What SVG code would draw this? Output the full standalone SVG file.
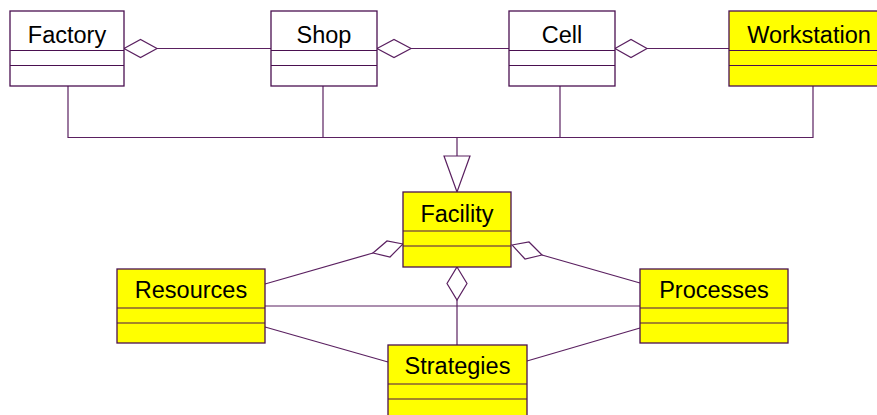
<svg xmlns="http://www.w3.org/2000/svg" width="877" height="415" viewBox="0 0 877 415">
  <style>
    .box { stroke: #4a1050; stroke-width: 1.3; }
    .plain { fill: #ffffff; }
    .hi { fill: #ffff00; }
    .div { stroke: #4a1050; stroke-width: 1.2; fill: none; }
    .lbl { font-family: "Liberation Sans", Arial, sans-serif; font-size: 23.5px; fill: #000000; text-anchor: middle; }
    .conn { stroke: #5a2060; stroke-width: 1.2; fill: none; }
    .dia { stroke: #5a2060; stroke-width: 1.2; fill: #ffffff; }
  </style>

  <g id="connectors">
    <!-- aggregation chain along the top -->
    <line class="conn" x1="157" y1="48.5" x2="271" y2="48.5"/>
    <polygon class="dia" points="124,48.5 140.5,39.5 157,48.5 140.5,57.5"/>
    <line class="conn" x1="411" y1="48.5" x2="509" y2="48.5"/>
    <polygon class="dia" points="377,48.5 394,39.5 411,48.5 394,57.5"/>
    <line class="conn" x1="647" y1="48.5" x2="729" y2="48.5"/>
    <polygon class="dia" points="615,48.5 631,39.5 647,48.5 631,57.5"/>

    <!-- generalization tree -->
    <polyline class="conn" points="68,86 68,137.5 813,137.5 813,86"/>
    <line class="conn" x1="323" y1="86" x2="323" y2="137.5"/>
    <line class="conn" x1="560" y1="86" x2="560" y2="137.5"/>
    <line class="conn" x1="457" y1="137.5" x2="457" y2="156"/>
    <polygon class="dia" points="444,156 470,156 457,192"/>

    <!-- Facility aggregations -->
    <line class="conn" x1="373" y1="253" x2="265" y2="284"/>
    <polygon class="dia" points="403,244 387,241 373,253 390,257"/>
    <line class="conn" x1="542" y1="255" x2="640" y2="283"/>
    <polygon class="dia" points="512,245 529,242 542,255 525,259"/>
    <line class="conn" x1="457" y1="300" x2="457" y2="345"/>
    <polygon class="dia" points="457,267 467,283.5 457,300 447,283.5"/>

    <!-- associations -->
    <line class="conn" x1="265" y1="306" x2="640" y2="306"/>
    <line class="conn" x1="265" y1="327" x2="388" y2="362"/>
    <line class="conn" x1="640" y1="328" x2="527" y2="361"/>
  </g>

  <g id="factory">
    <rect class="box plain" x="10" y="11" width="114" height="75"/>
    <line class="div" x1="10" y1="50.5" x2="124" y2="50.5"/>
    <line class="div" x1="10" y1="65.5" x2="124" y2="65.5"/>
    <text class="lbl" x="67" y="42.5">Factory</text>
  </g>

  <g id="shop">
    <rect class="box plain" x="271" y="11" width="106" height="75"/>
    <line class="div" x1="271" y1="50.5" x2="377" y2="50.5"/>
    <line class="div" x1="271" y1="65.5" x2="377" y2="65.5"/>
    <text class="lbl" x="324" y="42.5">Shop</text>
  </g>

  <g id="cell">
    <rect class="box plain" x="509" y="11" width="106" height="75"/>
    <line class="div" x1="509" y1="50.5" x2="615" y2="50.5"/>
    <line class="div" x1="509" y1="65.5" x2="615" y2="65.5"/>
    <text class="lbl" x="562" y="42.5">Cell</text>
  </g>

  <g id="workstation">
    <rect class="box hi" x="729" y="11" width="162" height="75"/>
    <line class="div" x1="729" y1="50.5" x2="891" y2="50.5"/>
    <line class="div" x1="729" y1="65.5" x2="891" y2="65.5"/>
    <text class="lbl" x="809" y="42.5">Workstation</text>
  </g>

  <g id="facility">
    <rect class="box hi" x="403" y="192" width="108" height="75"/>
    <line class="div" x1="403" y1="231" x2="511" y2="231"/>
    <line class="div" x1="403" y1="246" x2="511" y2="246"/>
    <text class="lbl" x="457" y="222">Facility</text>
  </g>

  <g id="resources">
    <rect class="box hi" x="117" y="269" width="148" height="74"/>
    <line class="div" x1="117" y1="308" x2="265" y2="308"/>
    <line class="div" x1="117" y1="323" x2="265" y2="323"/>
    <text class="lbl" x="191" y="298">Resources</text>
  </g>

  <g id="processes">
    <rect class="box hi" x="640" y="269" width="148" height="74"/>
    <line class="div" x1="640" y1="308" x2="788" y2="308"/>
    <line class="div" x1="640" y1="323" x2="788" y2="323"/>
    <text class="lbl" x="714" y="298">Processes</text>
  </g>

  <g id="strategies">
    <rect class="box hi" x="388" y="345" width="139" height="80"/>
    <line class="div" x1="388" y1="384" x2="527" y2="384"/>
    <line class="div" x1="388" y1="399" x2="527" y2="399"/>
    <text class="lbl" x="457.5" y="374">Strategies</text>
  </g>
</svg>
